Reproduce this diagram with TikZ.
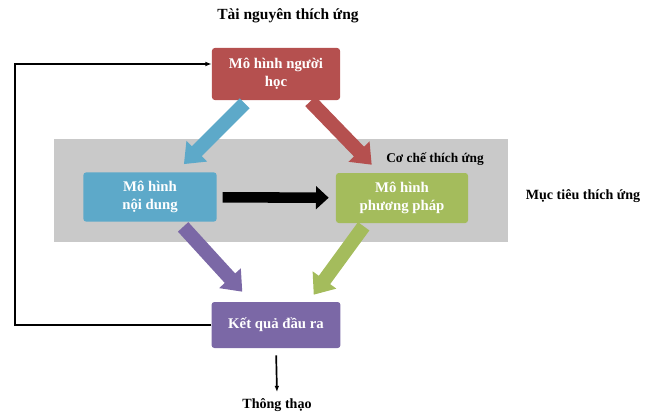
\documentclass[tikz,border=0pt]{standalone}
\usepackage{fontspec}
\setmainfont{Liberation Serif}
\usetikzlibrary{arrows.meta,calc}
\definecolor{Brick}{HTML}{B5504F}
\definecolor{Sky}{HTML}{5DA9C9}
\definecolor{Olive}{HTML}{A4BC5C}
\definecolor{Plum}{HTML}{7B68A6}
\definecolor{Band}{HTML}{C9C9C9}

\begin{document}
\begin{tikzpicture}[x=0.025cm,y=0.025cm,
    box/.style={rounded corners=2pt,text=white,align=center,font=\bfseries\fontsize{10.5}{12.5}\selectfont},
    lbl/.style={font=\bfseries\fontsize{10}{12}\selectfont},
    fat/.style={line width=10pt,-{Triangle[length=13pt,width=20pt]}},
    thin/.style={-{Latex[length=4.5pt]},line width=1.2pt}
  ]
    \useasboundingbox (0,0) rectangle (663,-417);
    \fill[Band] (54,-139) rectangle (508,-242);
    \node[lbl,font=\bfseries\fontsize{11}{13}\selectfont] (top) at (288,-16) {Tài nguyên thích ứng};
    \node[box,fill=Brick,minimum width=3.2cm,minimum height=1.3cm] (r) at (276,-74) {Mô hình người\\học};
    \node[box,fill=Sky,minimum width=3.33cm,minimum height=1.23cm] (b) at (150,-197) {Mô hình\\nội dung};
    \node[box,fill=Olive,minimum width=3.3cm,minimum height=1.25cm] (g) at (402,-198) {Mô hình\\phương pháp};
    \node[box,fill=Plum,minimum width=3.22cm,minimum height=1.15cm] (k) at (276,-325) {Kết quả đầu ra};
    \node[lbl,font=\bfseries\fontsize{9.5}{11}\selectfont] (mech) at (435,-159) {Cơ chế thích ứng};
    \node[lbl] (goal) at (583,-196) {Mục tiêu thích ứng};
    \node[lbl] (out) at (277,-405) {Thông thạo};
    \draw[fat,Sky] ($(r.south west)+(33,-3)$) -- ($(b.north east)+(-33,8)$);
    \draw[fat,Brick] ($(r.south east)+(-30,-1)$) -- ($(g.north west)+(36,8)$);
    \draw[fat,Plum] ($(b.south west)+(100,-5)$) -- ($(k.north west)+(31,10)$);
    \draw[fat,Olive] ($(g.south west)+(28,-3)$) -- ($(k.north east)+(-27,7)$);
    \draw[line width=7.5pt,-{Triangle[length=9pt,width=16pt]},shorten <=4pt,shorten >=5pt] (b) -- (g);
    \draw[thin] (k.west) -- ++(-196,0) |- ($(r.west)+(0,10)$);
    \draw[thin,shorten <=5pt,shorten >=1pt] (k.south) -- (out.north);
  \end{tikzpicture}
\end{document}
